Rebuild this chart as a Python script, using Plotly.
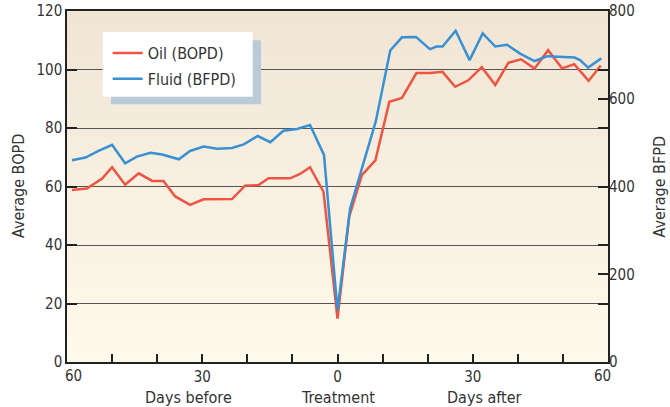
import plotly.graph_objects as go

# ---- data (days relative to treatment: negative = before, positive = after) ----
days_oil = [-58.9, -55.6, -52.2, -50.0, -47.1, -44.1, -41.1, -38.6, -36.0, -32.7,
            -29.7, -26.7, -23.4, -20.5, -17.5, -15.3, -12.9, -10.5, -8.3, -6.1,
            -3.1, 0.0,
            2.6, 5.4, 8.4, 11.5, 14.3, 17.5, 20.5, 23.3, 26.1, 29.0,
            32.0, 35.0, 37.9, 40.7, 43.7, 46.7, 49.8, 52.5, 55.7, 58.4]
oil_bopd = [58.8, 59.3, 62.7, 66.6, 60.6, 64.5, 61.9, 61.9, 56.6, 53.7,
            55.6, 55.7, 55.7, 60.3, 60.5, 62.8, 62.8, 62.8, 64.3, 66.6,
            58.2, 14.8,
            49.7, 63.9, 68.9, 89.0, 90.3, 98.8, 98.8, 99.2, 94.1, 96.3,
            100.8, 94.7, 102.3, 103.5, 100.3, 106.6, 100.4, 101.8, 96.1, 101.4]

days_fluid = [-58.9, -55.9, -53.0, -50.0, -47.1, -44.5, -41.5, -38.9, -35.2, -32.7,
              -29.7, -26.7, -23.4, -20.8, -17.7, -14.9, -12.0, -9.0, -6.1, -3.0,
              0.0,
              2.8, 8.5, 11.7, 14.3, 17.4, 20.5, 22.0, 23.3, 26.2, 29.3,
              32.2, 35.0, 37.6, 40.5, 43.7, 46.6, 49.6, 52.6, 53.8, 55.6, 58.5]
fluid_bfpd = [460, 466, 481, 495, 453, 468, 477, 473, 462, 481,
              491, 486, 488, 496, 515, 501, 527, 531, 540, 472,
              118,
              350, 549, 710, 740, 741, 713, 719, 719, 755, 688,
              749, 719, 723, 703, 686, 697, 695, 694, 688, 671, 692]

x_tickvals = [-60, -50, -40, -30, -20, -10, 0, 10, 20, 30, 40, 50, 60]
x_ticktext = ["", "", "", "30", "", "", "0", "", "", "30", "", "", ""]
x_end_labels = ["60", "60"]
x_end_pos = [-60, 60]
x_group_labels = ["Days before", "Treatment", "Days after"]
x_group_pos = [-33.1, 0.0, 32.7]

left_ticks = [0, 20, 40, 60, 80, 100, 120]
right_ticks = [0, 200, 400, 600, 800]

FONT = "DejaVu Sans Condensed, Liberation Sans Narrow, sans-serif"
TXT = "#333333"
OIL_C = "#ef5441"
FLUID_C = "#3791d3"

fig = go.Figure()
fig.add_trace(go.Scatter(x=days_oil, y=oil_bopd, mode="lines", name="Oil (BOPD)",
                         legendgroup="oil",
                         line=dict(color=OIL_C, width=2.5), yaxis="y"))
fig.add_trace(go.Scatter(x=days_fluid, y=fluid_bfpd, mode="lines", name="Fluid (BFPD)",
                         legendgroup="fluid",
                         line=dict(color=FLUID_C, width=2.5), yaxis="y2"))

# gradient background made of thin stripes
top_rgb = (241, 229, 213)
bot_rgb = (254, 250, 236)
n = 70
shapes = []
for i in range(n):
    t = i / (n - 1)
    r = round(bot_rgb[0] + (top_rgb[0] - bot_rgb[0]) * t)
    g = round(bot_rgb[1] + (top_rgb[1] - bot_rgb[1]) * t)
    b = round(bot_rgb[2] + (top_rgb[2] - bot_rgb[2]) * t)
    shapes.append(dict(type="rect", xref="x domain", yref="y domain",
                       x0=0, x1=1, y0=i / n, y1=(i + 1) / n + 0.002,
                       fillcolor=f"rgb({r},{g},{b})", line=dict(width=0), layer="below"))
# legend shadow and white legend box
shapes.append(dict(type="rect", xref="paper", yref="paper",
                   x0=0.0813, x1=0.3586, y0=0.734, y1=0.917,
                   fillcolor="#b9cbd8", line=dict(width=0), layer="above"))
shapes.append(dict(type="rect", xref="paper", yref="paper",
                   x0=0.0660, x1=0.3433, y0=0.7558, y1=0.9402,
                   fillcolor="white", line=dict(width=0), layer="above"))

annotations = []
for lab, pos, shift in zip(x_end_labels, x_end_pos, [6, -6]):
    annotations.append(dict(x=pos, xref="x", y=-0.0399, yref="paper", text=lab,
                            xshift=shift, showarrow=False, xanchor="center",
                            yanchor="middle",
                            font=dict(family=FONT, size=15, color=TXT)))
for lab, pos in zip(x_group_labels, x_group_pos):
    annotations.append(dict(x=pos, xref="x", y=-0.1017, yref="paper", text=lab,
                            showarrow=False, xanchor="center", yanchor="middle",
                            font=dict(family=FONT, size=16, color=TXT)))
annotations.append(dict(x=-0.0896, xref="paper", y=0.5, yref="paper",
                        text="Average BOPD", textangle=-90, showarrow=False,
                        xanchor="center", yanchor="middle",
                        font=dict(family=FONT, size=16, color=TXT)))
annotations.append(dict(x=1.0961, xref="paper", y=0.5, yref="paper",
                        text="Average BFPD", textangle=-90, showarrow=False,
                        xanchor="center", yanchor="middle",
                        font=dict(family=FONT, size=16, color=TXT)))

fig.update_layout(
    width=670, height=407,
    margin=dict(l=67, r=62, t=11, b=45, autoexpand=False),
    paper_bgcolor="white",
    plot_bgcolor="rgb(254,250,236)",
    font=dict(family=FONT, size=15, color=TXT),
    shapes=shapes,
    annotations=annotations,
    showlegend=True,
    legend=dict(x=0.0752, y=0.9288, xanchor="left", yanchor="top",
                bgcolor="rgba(0,0,0,0)", borderwidth=0,
                font=dict(family=FONT, size=16, color=TXT),
                itemwidth=30, tracegroupgap=2),
    xaxis=dict(range=[-60, 60], tickvals=x_tickvals, ticktext=x_ticktext,
               ticks="inside", ticklen=8, tickwidth=1.5, tickcolor="#222",
               showline=True, linecolor="#222", linewidth=1.5, mirror=True,
               showgrid=False, zeroline=False, automargin=False,
               tickfont=dict(family=FONT, size=15, color=TXT)),
    yaxis=dict(range=[0, 120], tickvals=left_ticks,
               ticks="inside", ticklen=10, tickwidth=1.5, tickcolor="#222",
               showline=True, linecolor="#222", linewidth=1.5, mirror="ticks",
               showgrid=True, gridcolor="#555555", gridwidth=1, zeroline=False,
               automargin=False,
               tickfont=dict(family=FONT, size=15, color=TXT)),
    yaxis2=dict(range=[0, 800], tickvals=right_ticks, overlaying="y", side="right",
                ticks="inside", ticklen=10, tickwidth=1.5, tickcolor="#222",
                showline=False, showgrid=False, zeroline=False, automargin=False,
                tickfont=dict(family=FONT, size=15, color=TXT)),
)

fig.write_html("out.html",
               config={"displayModeBar": False},
               post_script="document.body.style.margin='0';document.body.style.padding='0';")
